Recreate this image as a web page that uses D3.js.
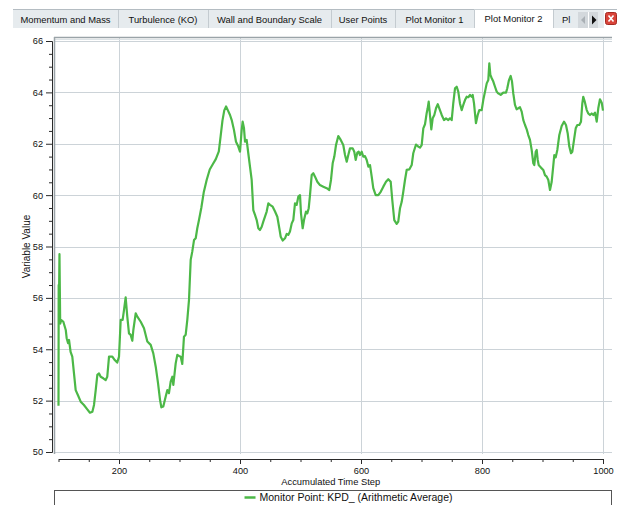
<!DOCTYPE html>
<html><head><meta charset="utf-8">
<script src="https://cdn.jsdelivr.net/npm/d3@7"></script>
<style>
body{margin:0;background:#fff;}
svg{display:block;font-family:"Liberation Sans",Arial,sans-serif;}
</style>
</head><body>
<svg id="c" width="617" height="505"></svg>
<script>
// ---------- DATA ----------
const tabLabels = ["Momentum and Mass","Turbulence (KO)","Wall and Boundary Scale","User Points","Plot Monitor 1","Plot Monitor 2","Pl"];
const activeTab = "Plot Monitor 2";
const xTitle = "Accumulated Time Step";
const yTitle = "Variable Value";
const seriesName = "Monitor Point: KPD_ (Arithmetic Average)";
const xTickValues = [200,400,600,800,1000];
const yTickValues = [50,52,54,56,58,60,62,64,66];

const steps = [100,100.3,101,101.6,102.8,104.6,108,112,113.5,115.7,117.4,120,122.8,125.6,128.4,132,136.7,142,147.6,152,156,158.7,161.5,164.2,167,169.7,174,178,180.6,183.5,189,193,197,200,202.8,206,208.3,211,213.7,216.5,219.3,222,223.7,227.6,230.3,235.9,241.3,246.8,252.4,256.7,260.7,264.5,267.8,270,273.2,277.2,279.9,282.6,285.4,288.1,289.8,293.7,296.4,299.2,302,304.6,307.4,310.2,312.9,315.7,318.5,321.1,324,326.8,329.4,332.2,336,340,345,350,355,360,365,368,371,374,377,380,383.5,386.3,390,393.4,397.2,400,402.8,404.4,406.6,408.3,411,413.7,416.5,419.3,422,424.8,427.6,430.3,433,435.9,438.5,441.3,444.1,446.8,449.6,454,457.9,461.7,465,467.3,470.6,474.4,477.2,479.8,482.6,485.5,488.1,490.9,493.7,496.4,499.2,500.8,503.6,505.8,509.1,511.2,513.6,515.7,518.5,521.2,524,527.8,532.2,537.7,543.3,547.6,550.4,553.2,555.9,558.7,562.5,566.5,570.7,573.6,576.4,579,581.8,586.3,588.9,591.2,593.9,596.2,598.3,601.2,603.8,606.6,609.4,612.1,614.9,617.7,620.3,624.3,628.6,632.6,636.9,641.3,645.1,649.1,651.7,655,659,661.6,664.5,667.3,669.9,672.7,675.5,679.8,683.8,686.4,690.9,694.7,697.5,700.3,703,705.8,708.6,710.2,711.9,714,716.2,718.5,721.2,724,726.9,729.4,733.4,737.2,740.5,744.3,747.1,749.9,752.5,755.4,758.2,760.8,763.6,766.4,769.1,771.9,774.7,777.4,780.2,783,784.6,786.8,788.4,790,792.9,795.5,799.5,802.1,805,807.8,810.4,812.1,813.8,816.1,818.7,821.5,824.3,826.9,830.9,835.2,839.7,841.8,844.6,847.4,849.6,851.7,854.5,857.3,859.9,862.8,865.6,868.3,871.1,873.9,876.5,879.3,882.1,884.8,886.4,888.8,890.4,892.1,893.7,895.9,898.7,901.3,904.1,906.9,909.6,912.4,915.2,917.9,919.5,921.8,924.5,927.8,931.7,935.5,938.8,941.6,944.3,947.1,949.3,952.1,954.9,957.5,960.8,963.6,965.8,967.4,969.8,973.1,975.7,978.5,981.3,984,986.8,989.6,992.2,995,997.9,1000];

const values = [51.8,56.5,56.3,57.7,55.0,55.14,55.07,54.75,54.43,54.24,54.36,53.9,53.71,53.06,52.41,52.22,51.96,51.83,51.66,51.53,51.57,51.83,52.41,53.0,53.06,52.93,52.87,52.8,52.93,53.71,53.71,53.58,53.48,53.71,55.14,55.14,55.53,56.02,55.27,54.62,54.56,54.33,54.75,55.4,55.27,55.07,54.82,54.3,54.17,53.84,53.32,52.68,52.03,51.74,51.77,52.16,52.41,52.29,52.74,52.93,52.61,53.45,53.78,53.74,53.71,53.43,54.49,54.56,55.14,55.92,57.48,57.8,58.25,58.32,58.71,59.03,59.5,60.1,60.6,61.0,61.2,61.4,61.7,62.3,62.9,63.3,63.45,63.3,63.12,62.92,62.54,62.08,61.89,61.69,62.54,62.86,62.6,62.08,62.15,61.63,61.11,60.59,59.42,59.23,59.03,58.71,58.64,58.77,58.97,59.16,59.36,59.68,59.62,59.55,59.36,59.16,58.71,58.38,58.23,58.32,58.49,58.45,58.58,58.9,59.03,59.68,59.62,59.94,60.0,59.29,58.71,59.03,59.36,59.29,59.49,60.0,60.78,60.85,60.72,60.52,60.39,60.33,60.27,60.2,60.59,61.24,61.5,61.95,62.3,62.15,61.95,61.56,61.3,61.56,61.82,61.82,61.69,61.37,61.65,61.69,61.56,61.69,61.5,61.52,61.37,61.11,61.17,60.72,60.27,60.0,60.0,60.13,60.33,60.52,60.62,60.52,59.81,59.03,58.88,58.97,59.49,59.74,60.13,60.59,60.98,61.0,61.17,61.63,61.97,61.89,61.85,61.95,62.6,62.76,63.2,63.38,63.64,63.12,62.56,62.99,63.12,63.38,63.54,63.38,63.12,62.92,62.99,62.92,62.99,62.92,63.57,64.16,64.22,64.03,63.57,63.31,63.51,63.7,63.83,63.81,63.9,63.83,63.9,63.57,63.18,62.8,63.12,63.31,63.31,63.7,64.03,64.35,64.48,65.13,64.68,64.55,64.42,64.22,64.03,63.96,63.9,63.99,63.99,64.16,64.48,64.64,64.42,63.96,63.51,63.34,63.38,63.42,63.25,62.92,62.73,62.56,62.34,62.15,61.76,61.24,61.17,61.69,61.76,61.37,61.17,61.11,61.04,60.98,60.78,60.72,60.59,60.2,60.52,61.17,61.56,61.47,61.76,62.34,62.69,62.86,62.73,62.41,61.89,61.63,61.69,62.15,62.6,62.73,62.73,62.86,63.57,63.83,63.64,63.31,63.18,63.12,63.18,63.12,63.21,62.86,63.38,63.73,63.6,63.29];

// ---------- LAYOUT ----------
const svg = d3.select("#c");
const P = {l:54, r:612, t:37, b:454};
const tabEdges = [13,118,208,331,395,474,553,578];
const tabTop = 9, tabBottom = 28;
const x = d3.scaleLinear().domain([100,1000]).range([58.5,603]);
const y = d3.scaleLinear().domain([50,66]).range([452,41]);
const crisp = v => Math.round(v) + 0.5;
const textCol = "#111";

// ---------- TAB BAR ----------
const tabs = svg.append("g");
tabs.append("rect").attr("x",tabEdges[0]).attr("y",tabTop).attr("width",604-tabEdges[0]).attr("height",tabBottom-tabTop)
  .attr("fill","#e6ebee");
tabs.append("line").attr("x1",tabEdges[0]).attr("x2",617).attr("y1",tabTop+0.5).attr("y2",tabTop+0.5).attr("stroke","#b4bcc2");
tabLabels.forEach((t,i)=>{
  const x0 = tabEdges[i], x1 = tabEdges[i+1];
  const active = t === activeTab;
  if (active) {
    tabs.append("rect").attr("x",x0).attr("y",tabTop).attr("width",x1-x0).attr("height",tabBottom-tabTop+3).attr("fill","#ffffff");
    tabs.append("line").attr("x1",x0).attr("x2",x1).attr("y1",tabTop+0.5).attr("y2",tabTop+0.5).attr("stroke","#c9d0d4");
  }
  if (i>0) tabs.append("line").attr("x1",x0+0.5).attr("x2",x0+0.5).attr("y1",tabTop+1).attr("y2",tabBottom).attr("stroke","#c4cbd0");
  const isLast = i === tabLabels.length-1;
  tabs.append("text").attr("x", isLast ? x0+9 : (x0+x1)/2).attr("y", active ? 22 : 23)
    .attr("text-anchor", isLast ? "start" : "middle").attr("font-size","9.4px").attr("fill",textCol).text(t);
});
// scroll arrows
tabs.append("rect").attr("x",578).attr("y",12).attr("width",20).attr("height",16).attr("fill","#d3d8dc");
tabs.append("line").attr("x1",588.5).attr("x2",588.5).attr("y1",12).attr("y2",28).attr("stroke","#ffffff");
tabs.append("path").attr("d","M585,16 L581,20 L585,24 Z").attr("fill","#aab0b5");
tabs.append("path").attr("d","M592,15.5 L596.5,20 L592,24.5 Z").attr("fill","#111");
// close button
tabs.append("rect").attr("x",605.5).attr("y",12.5).attr("width",11).attr("height",12).attr("rx",2).attr("fill","#d9443a").attr("stroke","#a52a22");
tabs.append("path").attr("d","M608.5,15.5 L613.5,21.5 M613.5,15.5 L608.5,21.5").attr("stroke","#fff").attr("stroke-width",1.6);

// ---------- PLOT AREA ----------
const plot = svg.append("g");
plot.append("rect").attr("x",P.l).attr("y",P.t).attr("width",P.r-P.l).attr("height",P.b-P.t).attr("fill","#fff");
const gridCol = "#ccd3d8";
plot.append("g").selectAll("line").data(yTickValues).join("line")
  .attr("x1",P.l).attr("x2",P.r).attr("y1",d=>crisp(y(d))).attr("y2",d=>crisp(y(d)))
  .attr("stroke",gridCol);
plot.append("g").selectAll("line").data(xTickValues).join("line")
  .attr("y1",P.t).attr("y2",P.b).attr("x1",d=>crisp(x(d))).attr("x2",d=>crisp(x(d)))
  .attr("stroke",gridCol);
// frame top and left
plot.append("line").attr("x1",P.l).attr("x2",P.r).attr("y1",P.t+0.5).attr("y2",P.t+0.5).attr("stroke","#9aa3a8").attr("stroke-width",1.5);
plot.append("line").attr("x1",P.l).attr("x2",P.r).attr("y1",P.t+2.5).attr("y2",P.t+2.5).attr("stroke","#dde3e6");
plot.append("line").attr("x1",P.l+0.5).attr("x2",P.l+0.5).attr("y1",P.t).attr("y2",P.b).attr("stroke","#9aa3a8").attr("stroke-width",1.5);

// series line
const pts = steps.map((s,i)=>[s,values[i]]);
plot.append("path").datum(pts)
  .attr("d", d3.line().x(d=>x(d[0])).y(d=>y(d[1])))
  .attr("fill","none").attr("stroke","#4cb847").attr("stroke-width",2.2).attr("stroke-linejoin","round");

// ---------- AXES ----------
const axCol = "#2a2a2a";
function styleAxis(g){
  g.selectAll("path,line").attr("stroke",axCol);
  g.selectAll("text").attr("fill",textCol).attr("font-size","9.2px").attr("font-family","Liberation Sans, Arial, sans-serif");
}
const yMinor = d3.range(50,66.01,0.5).filter(v=>v%2!==0);
svg.append("g").attr("transform","translate(52,0)")
  .call(d3.axisLeft(y).tickValues(yMinor).tickSize(3).tickSizeOuter(0).tickFormat(""))
  .call(styleAxis);
svg.append("g").attr("transform","translate(52,0)")
  .call(d3.axisLeft(y).tickValues(yTickValues).tickSize(6).tickPadding(3).tickSizeOuter(0).tickFormat(d3.format("d")))
  .call(styleAxis);

const xMinor = d3.range(100,1001,50).filter(v=>v%200!==0);
svg.append("g").attr("transform","translate(0,459)")
  .call(d3.axisBottom(x).tickValues(xMinor).tickSize(3).tickSizeOuter(0).tickFormat(""))
  .call(styleAxis);
svg.append("g").attr("transform","translate(0,459)")
  .call(d3.axisBottom(x).tickValues(xTickValues).tickSize(5).tickPadding(3).tickSizeOuter(0).tickFormat(d3.format("d")))
  .call(styleAxis);

svg.append("text").attr("x",(x(100)+x(1000))/2).attr("y",485).attr("text-anchor","middle")
  .attr("font-size","9.4px").attr("fill",textCol).text(xTitle);
svg.append("text").attr("transform","translate(30,"+((y(50)+y(66))/2)+") rotate(-90)").attr("text-anchor","middle")
  .attr("font-size","10px").attr("fill",textCol).text(yTitle);

// ---------- LEGEND ----------
const lg = svg.append("g");
lg.append("rect").attr("x",P.l+0.5).attr("y",490.5).attr("width",P.r-P.l-1).attr("height",30).attr("fill","#fff").attr("stroke","#555").attr("stroke-width",1);
const lgText = lg.append("text").attr("y",501).attr("font-size","10.5px").attr("fill",textCol).text(seriesName);
const tw = lgText.node().getComputedTextLength();
const lgCenter = (P.l+P.r)/2 + 15;
const tx = lgCenter - (tw+16)/2 + 16;
lgText.attr("x",tx);
lg.append("line").attr("x1",tx-15).attr("x2",tx-4).attr("y1",497.5).attr("y2",497.5).attr("stroke","#4cb847").attr("stroke-width",2.5);
</script>
</body></html>
